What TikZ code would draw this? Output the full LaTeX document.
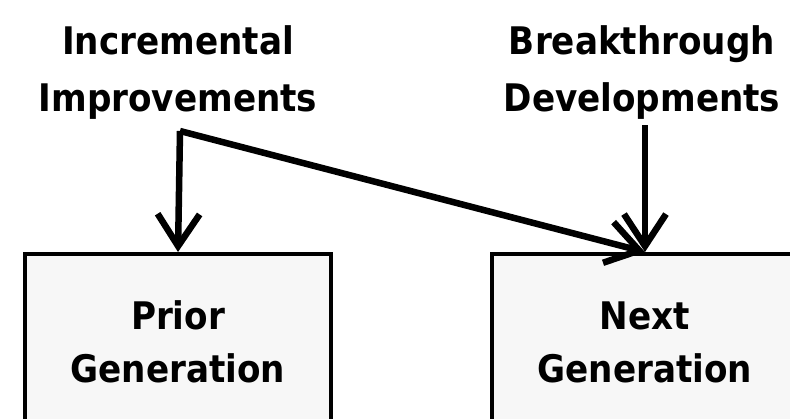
\documentclass[tikz,border=0pt]{standalone}
\usepackage{fontspec}
\newfontfamily\lblfont{DejaVu Sans Condensed}[BoldFont={DejaVu Sans Condensed Bold}]
\usetikzlibrary{arrows.meta}
\tikzset{
  lbl/.style={font=\lblfont\bfseries\fontsize{38}{57}\selectfont, align=center, inner sep=0pt},
  genbox/.style={draw=black, line width=4pt, fill=gray!6, minimum width=306pt, minimum height=176pt,
                 font=\lblfont\bfseries\fontsize{38}{53}\selectfont, align=center, inner sep=0pt},
  conn/.style={line width=6.5pt, line join=miter, -{Straight Barb[length=32pt,width=42pt]}}
}
\begin{document}
\begin{tikzpicture}[x=1pt,y=-1pt]
\useasboundingbox (0,0) rectangle (790,418);
\begin{scope}
\clip (0,0) rectangle (790,418);
\node[genbox] (prior) at (178,342) {Prior\\Generation};
\node[genbox] (next) at (645,342) {Next\\Generation};
\end{scope}
\node[lbl] (inc) at (178,73) {Incremental\\Improvements};
\node[lbl] (brk) at (642,73) {Breakthrough\\Developments};
\coordinate (c) at (180,131);
\coordinate (bt) at (645,125);
\draw[conn] (c) -- (prior.north);
\draw[conn] (c) -- (next.north);
\draw[conn] (bt) -- (next.north);
\end{tikzpicture}
\end{document}
